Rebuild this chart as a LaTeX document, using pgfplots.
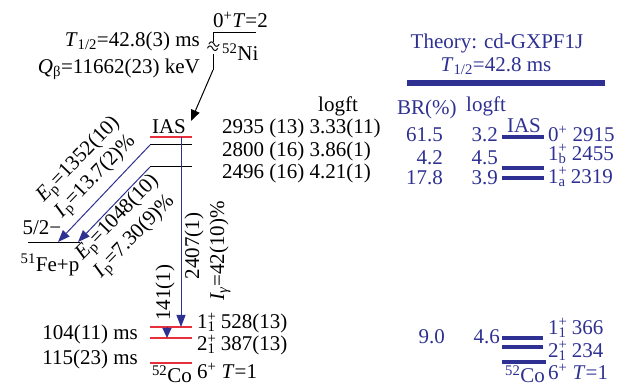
\documentclass[border=0pt]{standalone}
\usepackage{pgfplots}
\pgfplotsset{compat=1.18}
\usepackage{fontspec}
\setmainfont{Liberation Serif}
\usetikzlibrary{arrows.meta}
\definecolor{lvlred}{RGB}{232,48,60}
\definecolor{navy}{RGB}{46,49,146}
\newcommand{\up}[1]{\textsuperscript{#1}}
\newcommand{\dn}[1]{\textsubscript{#1}}
\newcommand{\jp}[2]{#1\rlap{\textsuperscript{+}}\textsubscript{#2}}
\newcommand{\bigf}{\fontsize{21}{24}\selectfont}
\begin{document}
\begin{tikzpicture}[every node/.style={font=\bigf, inner sep=0pt}]
\begin{axis}[scale only axis, width=630pt, height=387pt,
  xmin=0, xmax=630, ymin=0, ymax=387, y dir=reverse,
  hide axis, clip=false]
% ---- 52Ni parent and beta feeding ----
\addplot[black, line width=1pt] coordinates {(213,33) (256,33)};
\addplot[black, line width=1pt] coordinates {(213,33) (213,42)};
\addplot[black, line width=1pt] coordinates {(213,54) (213,70)};
\addplot[black, line width=1pt, -{Triangle[length=11pt,width=9pt]}] coordinates {(213,70) (191,121)};
\node[rotate=-20] at (axis cs:213,48) {\fontsize{22}{22}\selectfont ≈};
\node[anchor=west] at (axis cs:213,20) {0\up{+}\textit{T}=2};
\node[anchor=west] at (axis cs:222,52) {\up{52}Ni};
\node[anchor=east] at (axis cs:200,41) {\textit{T}\dn{1/2}=42.8(3) ms};
\node[anchor=east] at (axis cs:200,69) {\textit{Q}\dn{β}=11662(23) keV};
% ---- 52Co levels (experiment) ----
\addplot[lvlred, line width=1.3pt] coordinates {(150,137) (192,137)};
\addplot[black, line width=1pt] coordinates {(150,145) (192,145)};
\addplot[black, line width=1pt] coordinates {(150,167) (192,167)};
\addplot[lvlred, line width=1.3pt] coordinates {(150,327) (192,327)};
\addplot[lvlred, line width=1.3pt] coordinates {(150,338) (192,338)};
\addplot[lvlred, line width=1.3pt] coordinates {(150,363) (192,363)};
% 51Fe+p threshold
\addplot[black, line width=1pt] coordinates {(28,243) (80,243)};
% proton emission
\addplot[navy, line width=1pt, -{Triangle[length=12pt,width=9pt]}] coordinates {(150,145) (58,242)};
\addplot[navy, line width=1pt, -{Triangle[length=12pt,width=9pt]}] coordinates {(150,167) (78,242)};
% gamma transitions
\addplot[navy, line width=1pt, -{Triangle[length=12pt,width=9pt]}] coordinates {(181,137) (181,327)};
\addplot[navy, line width=1pt, -{Triangle[length=10pt,width=9pt]}] coordinates {(167,327) (167,338)};
% labels
\node at (axis cs:169,127) {IAS};
\node at (axis cs:338,106) {logft};
\node[anchor=west] at (axis cs:222,128) {2935 (13) 3.33(11)};
\node[anchor=west] at (axis cs:222,151) {2800 (16) 3.86(1)};
\node[anchor=west] at (axis cs:222,173) {2496 (16) 4.21(1)};
\node at (axis cs:42,228) {5/2−};
\node at (axis cs:50,265) {\up{51}Fe+p};
\node[rotate=46] at (axis cs:79,160) {\textit{E}\dn{p}=1352(10)};
\node[rotate=46] at (axis cs:96,177) {\textit{I}\dn{p}=13.7(2)\%};
\node[rotate=46] at (axis cs:118,218) {\textit{E}\dn{p}=1048(10)};
\node[rotate=46] at (axis cs:135,237) {\textit{I}\dn{p}=7.30(9)\%};
\node[rotate=90] at (axis cs:165,293) {141(1)};
\node[rotate=90] at (axis cs:194,246) {2407(1)};
\node[rotate=90] at (axis cs:220,251) {\textit{I}\dn{\textit{γ}}=42(10)\%};
\node[anchor=east] at (axis cs:138,334) {104(11) ms};
\node[anchor=east] at (axis cs:138,359) {115(23) ms};
\node[anchor=west] at (axis cs:197,323) {\jp{1}{1} 528(13)};
\node[anchor=west] at (axis cs:197,345) {\jp{2}{1} 387(13)};
\node[anchor=base] at (axis cs:172,383) {\up{52}Co};
\node[anchor=west] at (axis cs:197,371) {6\up{+} \textit{T}=1};
% ---- shell-model calculation ----
\node[navy] at (axis cs:497,43) {Theory: cd-GXPF1J};
\node[navy] at (axis cs:496,66) {\textit{T}\dn{1/2}=42.8 ms};
\addplot[navy, line width=6pt] coordinates {(407,83) (605,83)};
\node[navy, anchor=west] at (axis cs:397,109) {BR(\%)};
\node[navy, anchor=west] at (axis cs:466,106) {logft};
\addplot[navy, line width=3.5pt] coordinates {(502,137) (544,137)};
\addplot[navy, line width=3.5pt] coordinates {(502,168) (544,168)};
\addplot[navy, line width=3.5pt] coordinates {(502,178) (544,178)};
\addplot[navy, line width=3.5pt] coordinates {(502,338) (543,338)};
\addplot[navy, line width=3.5pt] coordinates {(502,347) (543,347)};
\addplot[navy, line width=3.5pt] coordinates {(502,362) (546,362)};
\node[navy] at (axis cs:524,126) {IAS};
\node[navy, anchor=east] at (axis cs:443,135) {61.5};
\node[navy, anchor=east] at (axis cs:443,158) {4.2};
\node[navy, anchor=east] at (axis cs:443,178) {17.8};
\node[navy, anchor=east] at (axis cs:445,337) {9.0};
\node[navy, anchor=east] at (axis cs:498,135) {3.2};
\node[navy, anchor=east] at (axis cs:498,158) {4.5};
\node[navy, anchor=east] at (axis cs:498,178) {3.9};
\node[navy, anchor=east] at (axis cs:500,337) {4.6};
\node[navy, anchor=west] at (axis cs:548,134) {0\up{+} 2915};
\node[navy, anchor=west] at (axis cs:548,154) {\jp{1}{b} 2455};
\node[navy, anchor=west] at (axis cs:548,177) {\jp{1}{a} 2319};
\node[navy, anchor=west] at (axis cs:548,328) {\jp{1}{1} 366};
\node[navy, anchor=west] at (axis cs:548,351) {\jp{2}{1} 234};
\node[navy, anchor=base] at (axis cs:525,383) {\up{52}Co};
\node[navy, anchor=west] at (axis cs:548,372) {6\up{+} \textit{T}=1};
\end{axis}
\pgfresetboundingbox
\path (0,0) rectangle (630pt,387pt);
\end{tikzpicture}
\end{document}
